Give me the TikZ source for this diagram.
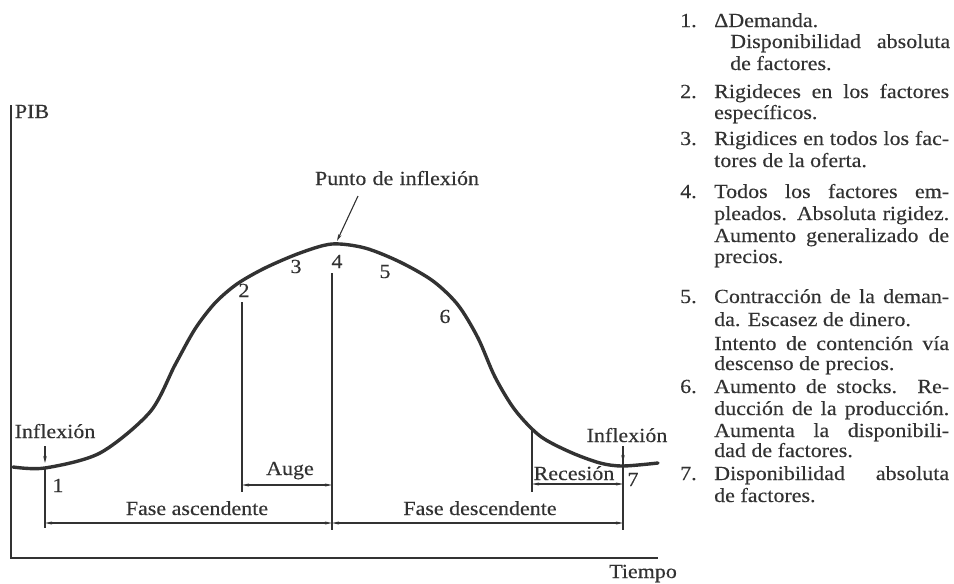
\documentclass[tikz,border=0pt]{standalone}
\usepackage{fontspec}
\setmainfont[FakeStretch=1.1,FakeBold=0.3]{Liberation Serif}
\usetikzlibrary{arrows.meta}
\definecolor{ink}{RGB}{50,50,50}
\begin{document}
\begin{tikzpicture}[x=1pt,y=-1pt,
  txt/.style={inner sep=0pt, text=ink, font=\fontsize{20}{22}\selectfont},
  lbl/.style={txt, anchor=base},
  ln/.style={txt, anchor=base west},
  axisline/.style={draw=ink, line width=1.3pt},
  thinline/.style={draw=ink, line width=1.1pt},
  dimarr/.style={thinline, {Stealth[length=7pt,width=3pt]}-{Stealth[length=7pt,width=3pt]}},
  ptr/.style={thinline, -{Stealth[length=7pt,width=3.5pt]}},
  gdp/.style={draw=ink, line width=3.4pt, line cap=round}]
\useasboundingbox (0,0) rectangle (954,584);
% axes
\coordinate (ytop) at (11,105);
\coordinate (origin) at (11,558);
\coordinate (xend) at (658,558);
\draw[axisline] (ytop) -- (origin) -- (xend);
\node[lbl] (pib) at (32,118) {PIB};
\node[lbl] (tiempo) at (643,578) {Tiempo};
% curve
\draw[gdp] plot[smooth, tension=0.5] coordinates {(13,467) (45,468) (100,453) (150,412) (175,365) (195,329) (215,303) (237,284) (265,268) (300,253) (332,244) (365,248) (400,262) (433,281) (458,305) (478,338) (495,377) (515,410) (540,436) (570,452) (600,463) (623,466) (658,463)};
% key coordinates
\coordinate (c1) at (45,467);
\coordinate (c1b) at (45,528);
\coordinate (c1a) at (45,446);
\coordinate (c1h) at (45,463);
\coordinate (c2t) at (242,302);
\coordinate (c2b) at (242,492);
\coordinate (c4t) at (332,273);
\coordinate (c4b) at (332,530);
\coordinate (crt) at (532,430);
\coordinate (crb) at (532,492);
\coordinate (c7a) at (623,446);
\coordinate (c7h) at (623,462);
\coordinate (c7b) at (623,530);
\coordinate (peak) at (337,241);
\coordinate (ptail) at (358,196);
% vertical lines
\draw[thinline] (c1) -- (c1b);
\draw[thinline] (c2t) -- (c2b);
\draw[thinline] (c4t) -- (c4b);
\draw[thinline] (crt) -- (crb);
\draw[thinline] (c7a) -- (c7b);
% pointers
\draw[ptr] (c1a) -- (c1h);
\draw[ptr] (c7a) -- (c7h);
\draw[ptr] (ptail) -- (peak);
% dimension arrows
\coordinate (auL) at (242,485);
\coordinate (auR) at (332,485);
\coordinate (faL) at (45,523);
\coordinate (faR) at (332,523);
\coordinate (fdL) at (332,523);
\coordinate (fdR) at (623,523);
\coordinate (reL) at (532,484);
\coordinate (reR) at (623,484);
\draw[dimarr] (auL) -- (auR);
\draw[dimarr] (faL) -- (faR);
\draw[dimarr] (fdL) -- (fdR);
\draw[dimarr] (reL) -- (reR);
% labels
\node[lbl] (punto) at (397,185) {\makebox[164pt][s]{Punto de inflexión}};
\node[lbl] (n2) at (244,297) {2};
\node[lbl] (n3) at (296,273) {3};
\node[lbl] (n4) at (337,268) {4};
\node[lbl] (n5) at (385,278) {5};
\node[lbl] (n6) at (445,323) {6};
\node[lbl] (n1) at (58,492) {1};
\node[lbl] (n7) at (633,486) {7};
\node[lbl] (infl) at (55,438) {Inflexión};
\node[lbl] (infr) at (627,442) {Inflexión};
\node[lbl] (auge) at (290,475) {Auge};
\node[lbl] (fasc) at (197,515) {Fase ascendente};
\node[lbl] (fdes) at (480,515) {Fase descendente};
\node[lbl] (rec) at (574,480) {Recesión};
% right list
\node[ln] (i1) at (680,27) {1.};
\node[ln] (t1a) at (714,27) {ΔDemanda.};
\node[ln] (t1b) at (730,48) {\makebox[220pt][s]{Disponibilidad absoluta}};
\node[ln] (t1c) at (730,70) {de factores.};
\node[ln] (i2) at (680,98) {2.};
\node[ln] (t2a) at (714,98) {\makebox[235pt][s]{Rigideces en los factores}};
\node[ln] (t2b) at (714,119) {específicos.};
\node[ln] (i3) at (680,145) {3.};
\node[ln] (t3a) at (714,145) {\makebox[235pt][s]{Rigidices en todos los fac-}};
\node[ln] (t3b) at (714,167) {tores de la oferta.};
\node[ln] (i4) at (680,198) {4.};
\node[ln] (t4a) at (714,198) {\makebox[235pt][s]{Todos los factores em-}};
\node[ln] (t4b) at (714,220) {\makebox[235pt][s]{pleados. Absoluta rigidez.}};
\node[ln] (t4c) at (714,242) {\makebox[235pt][s]{Aumento generalizado de}};
\node[ln] (t4d) at (714,263) {precios.};
\node[ln] (i5) at (680,303) {5.};
\node[ln] (t5a) at (714,303) {\makebox[235pt][s]{Contracción de la deman-}};
\node[ln] (t5b) at (714,326) {da. Escasez de dinero.};
\node[ln] (t5c) at (714,350) {\makebox[235pt][s]{Intento de contención vía}};
\node[ln] (t5d) at (714,370) {descenso de precios.};
\node[ln] (i6) at (680,393) {6.};
\node[ln] (t6a) at (714,393) {\makebox[235pt][s]{Aumento de stocks. Re-}};
\node[ln] (t6b) at (714,415) {\makebox[235pt][s]{ducción de la producción.}};
\node[ln] (t6c) at (714,437) {\makebox[235pt][s]{Aumenta la disponibili-}};
\node[ln] (t6d) at (714,457) {dad de factores.};
\node[ln] (i7) at (680,480) {7.};
\node[ln] (t7a) at (714,480) {\makebox[235pt][s]{Disponibilidad absoluta}};
\node[ln] (t7b) at (714,502) {de factores.};
\end{tikzpicture}
\end{document}
